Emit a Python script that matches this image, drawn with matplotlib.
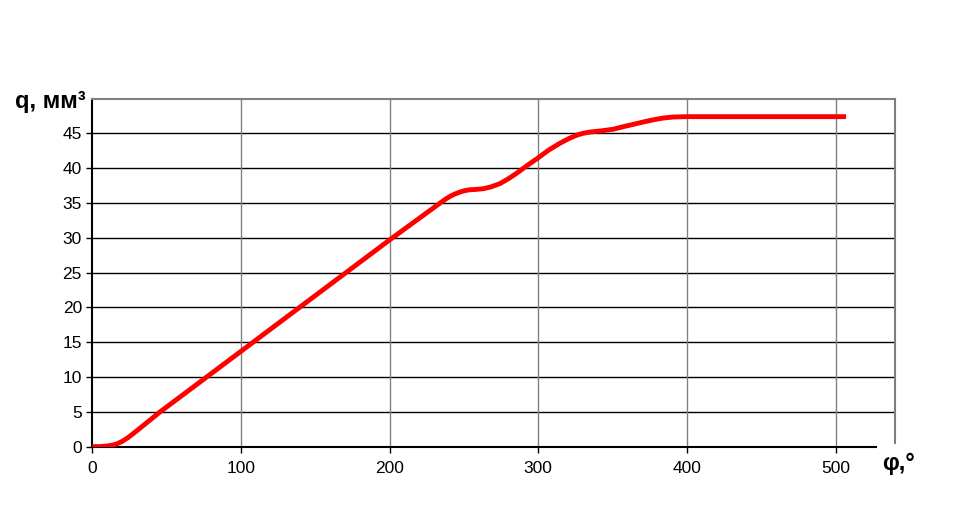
import matplotlib
matplotlib.use('Agg')
from matplotlib import pyplot as plt

# curve
phi = [0, 5, 10, 14, 17, 20, 24, 30, 45.6, 80, 120, 160, 200, 229.5, 234, 238, 241, 244,
       247, 250, 254, 258, 263, 268, 274.4, 280, 285.6, 292, 300, 307, 314.7, 321, 326,
       330, 335, 342, 350.6, 357, 364, 371, 377.5, 384, 391, 400, 420, 460, 507]
q = [0, 0.02, 0.1, 0.25, 0.45, 0.75, 1.3, 2.3, 5, 10.5, 16.9, 23.3, 29.7, 34.3, 35.0,
     35.6, 36.0, 36.3, 36.55, 36.75, 36.9, 36.95, 37.05, 37.3, 37.8, 38.5, 39.3, 40.3,
     41.5, 42.6, 43.6, 44.3, 44.75, 45.0, 45.2, 45.35, 45.6, 45.95, 46.3, 46.65, 46.95,
     47.2, 47.35, 47.4, 47.4, 47.4, 47.4]

x_ticks = [0, 100, 200, 300, 400, 500]
y_ticks = [0, 5, 10, 15, 20, 25, 30, 35, 40, 45]

plt.rcParams['font.family'] = ['Liberation Sans', 'DejaVu Sans']

fig = plt.figure(figsize=(9.75, 5.08), dpi=100)
ax = fig.add_axes([0.0947, 0.1207, 0.8233, 0.6853])

ax.plot(phi, q, c='#ff0000', lw=3.5, solid_capstyle='butt', solid_joinstyle='round', zorder=3)

ax.set_xlim(0, 540)
ax.set_ylim(0, 50)
ax.set_xticks(x_ticks)
ax.set_yticks(y_ticks)
ax.tick_params(axis='both', labelsize=12.5, length=4, width=1, color='black')
ax.tick_params(axis='x', pad=6)

for y in y_ticks[1:]:
    ax.axhline(y, color='black', lw=1, zorder=1)
for x in x_ticks[1:]:
    ax.axvline(x, color='#808080', lw=1, zorder=1)

ax.spines['left'].set_color('black')
ax.spines['bottom'].set_color('black')
ax.spines['bottom'].set_bounds(0, 527)
ax.spines['top'].set_color('#808080')
ax.spines['right'].set_color('#808080')
ax.spines['right'].set_bounds(0.5, 50)
for s in ax.spines.values():
    s.set_linewidth(1.5)

fig.text(0.015, 0.80, 'q, мм³', fontsize=17, fontweight='bold', va='center')
fig.text(0.905, 0.088, 'φ,°', fontsize=17, fontweight='bold', va='center')

fig.savefig('out.png', dpi=100)
